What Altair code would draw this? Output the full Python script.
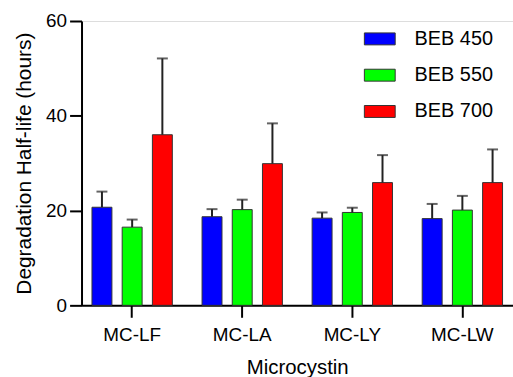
import altair as alt
import pandas as pd

categories = ["MC-LF", "MC-LA", "MC-LY", "MC-LW"]
series = ["BEB 450", "BEB 550", "BEB 700"]
means = {
    "BEB 450": [20.7, 18.7, 18.4, 18.3],
    "BEB 550": [16.5, 20.2, 19.6, 20.1],
    "BEB 700": [36.0, 29.9, 25.9, 25.9],
}
errors = {
    "BEB 450": [3.3, 1.6, 1.2, 3.1],
    "BEB 550": [1.6, 2.1, 1.0, 3.0],
    "BEB 700": [16.1, 8.5, 5.8, 7.0],
}
colors = ["#0000FF", "#00FF00", "#FF0000"]
y_ticks = [0, 20, 40, 60]

rows = []
for s in series:
    for i, c in enumerate(categories):
        m = means[s][i]
        rows.append({"cat": c, "series": s, "mean": m, "upper": m + errors[s][i]})
df = pd.DataFrame(rows)

FONT = "Liberation Sans"

x_enc = alt.X(
    "cat:N", sort=categories, title="Microcystin",
    scale=alt.Scale(paddingInner=0.27, paddingOuter=0.095),
    axis=alt.Axis(labelAngle=0, labelFontSize=19, titleFontSize=20.5, tickSize=12,
                  tickWidth=2, domainWidth=2, domainColor="black", tickColor="black",
                  labelColor="black", titleColor="black", labelPadding=8,
                  titlePadding=14, titleFontWeight="normal", labelFont=FONT, titleFont=FONT),
)
xoff = alt.XOffset("series:N", sort=series,
                   scale=alt.Scale(paddingInner=0.34, paddingOuter=0))

bars = alt.Chart(df).mark_bar(stroke="#333333", strokeWidth=1).encode(
    x=x_enc,
    xOffset=xoff,
    y=alt.Y("mean:Q", title="Degradation Half-life (hours)",
            scale=alt.Scale(domain=[0, 60], nice=False),
            axis=alt.Axis(values=y_ticks, grid=False, labelFontSize=19, titleFontSize=21,
                          tickSize=12, tickWidth=2, domainWidth=2, domainColor="black",
                          tickColor="black", labelColor="black", titleColor="black",
                          labelPadding=3, titlePadding=11, titleFontWeight="normal",
                          labelFont=FONT, titleFont=FONT)),
    color=alt.Color("series:N", sort=series,
                    scale=alt.Scale(domain=series, range=colors),
                    legend=alt.Legend(title=None, orient="none", legendX=284, legendY=2,
                                      symbolType="M-1,-0.387H1V0.387H-1Z", symbolSize=961,
                                      symbolStrokeColor="#333333", symbolStrokeWidth=1,
                                      symbolOpacity=1,
                                      labelFontSize=20, labelFont=FONT, labelColor="black",
                                      labelOffset=19, rowPadding=10.5, padding=0)),
)

rules = alt.Chart(df).mark_rule(color="#222222", strokeWidth=2).encode(
    x=alt.X("cat:N", sort=categories),
    xOffset=xoff,
    y="mean:Q",
    y2="upper:Q",
)

caps = alt.Chart(df).mark_tick(color="#222222", thickness=2, size=11).encode(
    x=alt.X("cat:N", sort=categories),
    xOffset=xoff,
    y="upper:Q",
)

chart = (bars + rules + caps).properties(
    width=434, height=286,
    padding={"left": 13, "top": 11, "right": 0, "bottom": 5},
).configure_view(stroke=None).configure(font=FONT)

chart.save("out.html", embed_options={"renderer": "svg", "actions": False})
